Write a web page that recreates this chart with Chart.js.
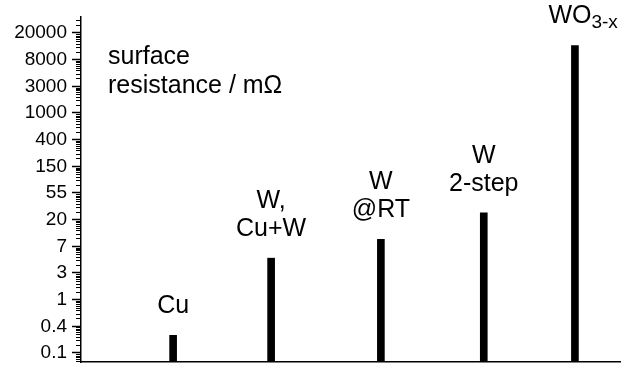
<!DOCTYPE html>
<html>
<head>
<meta charset="utf-8">
<script src="https://cdn.jsdelivr.net/npm/chart.js@4/dist/chart.umd.min.js"></script>
<style>
  html, body { margin: 0; padding: 0; background: #fff; }
  #wrap { width: 632px; height: 369px; }
</style>
</head>
<body>
<div id="wrap"><canvas id="resistanceChart"></canvas></div>
<script>
// samples, '\n' splits lines, '_' starts a subscript
const samples = ['Cu', 'W,\nCu+W', 'W\n@RT', 'W\n2-step', 'WO_3-x'];
const resistance = [0.25, 4.8, 9.2, 26, 13000];
const samplePos = [0.94, 1.94, 3.06, 4.11, 5.04];
const tickLabels = [0.1, 0.4, 1, 3, 7, 20, 55, 150, 400, 1000, 3000, 8000, 20000];

const FONT = '"Liberation Sans", Arial, sans-serif';
const yMin = -0.34, yMax = 12.6;

// the axis puts its labels at equal steps, so map a value between its two neighbouring labels (log interpolation)
const logLabels = tickLabels.map(Math.log);
function toAxis(v) {
    const lv = Math.log(v);
    let i = 0;
    while (i < logLabels.length - 2 && lv > logLabels[i + 1]) i++;
    return i + (lv - logLabels[i]) / (logLabels[i + 1] - logLabels[i]);
}

const points = resistance.map((v, i) => ({ x: samplePos[i], y: toAxis(v) }));

const minorTicks = {
    id: 'minorTicks',
    afterDraw(chart) {
        const y = chart.scales.y, ctx = chart.ctx;
        const x0 = chart.chartArea.left;
        ctx.save();
        ctx.strokeStyle = '#000';
        ctx.lineWidth = 1;
        for (let k = -1; k < tickLabels.length; k++) {
            for (let m = 2; m <= 9; m++) {
                const v = k + Math.log10(m);
                if (v < yMin || v > yMax) continue;
                const py = Math.round(y.getPixelForValue(v)) + 0.5;
                ctx.beginPath();
                ctx.moveTo(x0 - 5, py);
                ctx.lineTo(x0, py);
                ctx.stroke();
            }
        }
        ctx.restore();
    }
};

function drawLabel(ctx, text, cx, cy) {
    const parts = text.split('_');
    ctx.font = '25px ' + FONT;
    const w1 = ctx.measureText(parts[0]).width;
    ctx.textAlign = 'left';
    ctx.textBaseline = 'middle';
    if (!parts[1]) {
        ctx.fillText(parts[0], cx - w1 / 2, cy);
        return;
    }
    // subscripted label: main part roughly over the bar, subscript trailing
    const x = cx - w1 / 2 - 5;
    ctx.fillText(parts[0], x, cy);
    ctx.font = '19px ' + FONT;
    ctx.fillText(parts[1], x + w1, cy + 6);
}

const barLabels = {
    id: 'barLabels',
    afterDatasetsDraw(chart) {
        const ctx = chart.ctx;
        const bars = chart.getDatasetMeta(0).data;
        ctx.save();
        ctx.fillStyle = '#000';
        bars.forEach((bar, i) => {
            const lines = samples[i].split('\n');
            lines.forEach((line, j) => {
                const cy = bar.y - 29 - (lines.length - 1 - j) * 28;
                drawLabel(ctx, line, bar.x, cy);
            });
        });
        // axis title inside the plot
        const a = chart.chartArea;
        ctx.font = '25px ' + FONT;
        ctx.textAlign = 'left';
        ctx.textBaseline = 'middle';
        ctx.fillText('surface', a.left + 27, a.top + 40);
        ctx.fillText('resistance / m\u03A9', a.left + 27, a.top + 69);
        ctx.restore();
    }
};

const ctx = document.getElementById('resistanceChart').getContext('2d');

const resistanceChart = new Chart(ctx, {
    type: 'bar',
    data: {
        datasets: [{
            data: points,
            backgroundColor: '#000',
            borderWidth: 0,
            barThickness: 7,
            base: yMin
        }]
    },
    options: {
        responsive: true,
        maintainAspectRatio: false,
        animation: false,
        layout: { padding: { top: 17, right: 12, left: 0, bottom: 0 } },
        plugins: {
            legend: { display: false },
            tooltip: { enabled: false }
        },
        scales: {
            x: {
                type: 'linear',
                offset: false,
                min: 0,
                max: 5.5,
                ticks: { display: false },
                grid: { display: false, offset: false },
                border: { display: true, color: '#000', width: 1.5 },
                afterFit(s) { s.height = 7; }
            },
            y: {
                type: 'linear',
                min: yMin,
                max: yMax,
                afterBuildTicks(s) { s.ticks = tickLabels.map((v, i) => ({ value: i })); },
                afterFit(s) { s.width = 81; s.paddingTop = 0; s.paddingBottom = 0; },
                ticks: {
                    autoSkip: false,
                    padding: 5,
                    color: '#000',
                    font: { family: FONT, size: 19 },
                    callback: (v) => tickLabels[v]
                },
                grid: { drawOnChartArea: false, tickLength: 9, color: '#000', tickWidth: 1.5 },
                border: { display: true, color: '#000', width: 1.5 }
            }
        }
    },
    plugins: [minorTicks, barLabels]
});
</script>
</body>
</html>
